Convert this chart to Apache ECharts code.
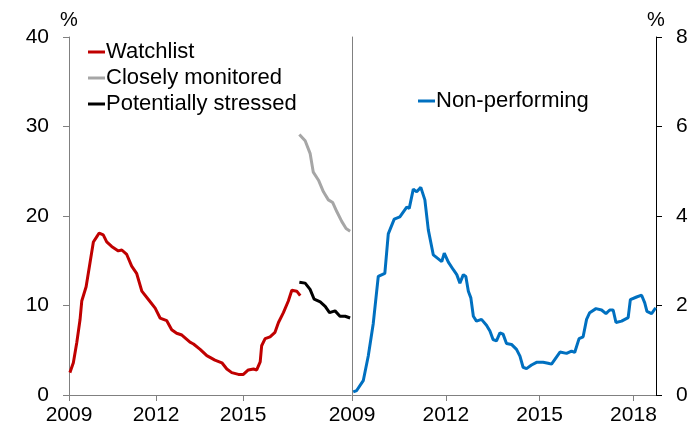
<!DOCTYPE html>
<html>
<head>
<meta charset="utf-8">
<script src="https://cdn.jsdelivr.net/npm/echarts@6/dist/echarts.min.js"></script>
<style>html,body{margin:0;padding:0;background:#fff;}#c{width:693px;height:430px;}</style>
</head>
<body>
<div id="c"></div>
<script>
// ---- data (decimal years, percent) ----
var watchlistX = [2009.03,2009.15,2009.27,2009.38,2009.44,2009.59,2009.72,2009.84,2009.96,2010.04,2010.18,2010.30,2010.47,2010.70,2010.82,2010.99,2011.16,2011.33,2011.51,2011.73,2011.97,2012.14,2012.37,2012.54,2012.71,2012.89,2013.17,2013.29,2013.52,2013.75,2014.03,2014.27,2014.44,2014.61,2014.84,2015.01,2015.18,2015.36,2015.47,2015.59,2015.64,2015.76,2015.93,2016.10,2016.22,2016.39,2016.56,2016.68,2016.85,2016.97];
var watchlistY = [2.5,3.6,5.9,8.4,10.5,12.1,14.7,17.1,17.7,18.1,17.9,17.1,16.6,16.1,16.2,15.7,14.4,13.6,11.6,10.7,9.7,8.6,8.3,7.3,6.9,6.7,5.9,5.7,5.1,4.4,3.9,3.6,2.9,2.5,2.3,2.3,2.8,2.9,2.8,3.7,5.5,6.3,6.5,7.0,8.1,9.2,10.5,11.7,11.6,11.1];

var closelyX = [2016.94,2017.14,2017.31,2017.42,2017.60,2017.77,2017.94,2018.09,2018.23,2018.40,2018.55,2018.69];
var closelyY = [29.1,28.4,27.0,24.9,24.0,22.7,21.8,21.5,20.5,19.4,18.6,18.3];

var stressedX = [2016.94,2017.14,2017.31,2017.45,2017.66,2017.83,2017.98,2018.17,2018.34,2018.52,2018.69];
var stressedY = [12.6,12.5,11.8,10.7,10.4,9.9,9.2,9.4,8.8,8.8,8.6];

var npX = [2009.04,2009.15,2009.36,2009.52,2009.68,2009.84,2010.05,2010.16,2010.35,2010.53,2010.75,2010.83,2010.96,2011.07,2011.20,2011.33,2011.44,2011.60,2011.87,2011.95,2012.08,2012.24,2012.35,2012.45,2012.56,2012.64,2012.72,2012.80,2012.88,2012.98,2013.14,2013.30,2013.41,2013.51,2013.62,2013.73,2013.83,2013.94,2014.10,2014.26,2014.37,2014.47,2014.58,2014.74,2014.90,2015.11,2015.27,2015.38,2015.65,2015.86,2016.02,2016.12,2016.26,2016.39,2016.50,2016.60,2016.80,2016.98,2017.12,2017.24,2017.35,2017.44,2017.62,2017.83,2017.90,2018.10,2018.26,2018.36,2018.43,2018.58,2018.71];
var npY = [0.07,0.1,0.32,0.87,1.6,2.65,2.72,3.6,3.93,3.98,4.2,4.17,4.6,4.54,4.64,4.36,3.69,3.13,2.98,3.17,2.97,2.8,2.69,2.5,2.69,2.65,2.32,2.17,1.76,1.65,1.69,1.56,1.43,1.24,1.21,1.39,1.36,1.15,1.13,1.02,0.87,0.62,0.59,0.67,0.73,0.73,0.71,0.69,0.96,0.93,0.98,0.95,1.26,1.3,1.69,1.84,1.93,1.9,1.82,1.9,1.9,1.62,1.65,1.73,2.13,2.19,2.23,2.06,1.87,1.82,1.95];

var leftTicks = [2009, 2012, 2015];
var rightTicks = [2009, 2012, 2015, 2018];

var names = ['Watchlist', 'Closely monitored', 'Potentially stressed', 'Non-performing'];
var colors = ['#C00000', '#A6A6A6', '#000000', '#0070C0'];

function zip(xs, ys) { return xs.map(function (x, i) { return [x, ys[i]]; }); }

var FONT = 'Liberation Sans, Arial, sans-serif';
var chart = echarts.init(document.getElementById('c'), null, { renderer: 'canvas' });

function xAxis(gi, ticks) {
  return {
    type: 'value', gridIndex: gi, min: 2009, max: 2018.72,
    axisLine: { show: true, onZero: false, lineStyle: { color: '#808080', width: 1 } },
    axisTick: { show: true, length: 6, customValues: ticks, lineStyle: { color: '#808080' } },
    axisLabel: { customValues: ticks, margin: 10, color: '#000', fontSize: 21, fontFamily: FONT,
      formatter: function (v) { return String(Math.round(v)); } },
    splitLine: { show: false }
  };
}

chart.setOption({
  animation: false,
  backgroundColor: '#fff',
  grid: [
    { left: 69, right: 342, top: 37, bottom: 35 },
    { left: 352, right: 37, top: 37, bottom: 35 }
  ],
  legend: [
    { orient: 'vertical', left: 83, top: 36, itemGap: 4, icon: 'rect', itemWidth: 17, itemHeight: 3,
      data: names.slice(0, 3), textStyle: { fontSize: 22, color: '#000', fontFamily: FONT, padding: [0, 0, 0, -4] } },
    { orient: 'vertical', left: 413, top: 85, icon: 'rect', itemWidth: 17, itemHeight: 3,
      data: [names[3]], textStyle: { fontSize: 22, color: '#000', fontFamily: FONT, padding: [0, 0, 0, -4] } }
  ],
  xAxis: [ xAxis(0, leftTicks), xAxis(1, rightTicks) ],
  yAxis: [
    { type: 'value', gridIndex: 0, min: 0, max: 40, interval: 10, position: 'left',
      name: '%', nameLocation: 'end', nameGap: 7,
      nameTextStyle: { fontSize: 20, color: '#000', fontFamily: FONT, align: 'center' },
      axisLine: { show: true, lineStyle: { color: '#808080' } },
      axisTick: { show: true, length: 6, lineStyle: { color: '#808080' } },
      axisLabel: { margin: 20, color: '#000', fontSize: 21, fontFamily: FONT },
      splitLine: { show: false } },
    { type: 'value', gridIndex: 1, min: 0, max: 8, interval: 2, position: 'right',
      name: '%', nameLocation: 'end', nameGap: 7,
      nameTextStyle: { fontSize: 20, color: '#000', fontFamily: FONT, align: 'center' },
      axisLine: { show: true, lineStyle: { color: '#000' } },
      axisTick: { show: true, length: 6, lineStyle: { color: '#000' } },
      axisLabel: { margin: 20, color: '#000', fontSize: 21, fontFamily: FONT },
      splitLine: { show: false } },
    { type: 'value', gridIndex: 1, min: 0, max: 8, position: 'left',
      axisLine: { show: true, lineStyle: { color: '#808080' } },
      axisTick: { show: false }, axisLabel: { show: false }, splitLine: { show: false } }
  ],
  series: [
    { name: names[0], type: 'line', xAxisIndex: 0, yAxisIndex: 0, data: zip(watchlistX, watchlistY),
      showSymbol: false, lineStyle: { color: colors[0], width: 3 }, itemStyle: { color: colors[0] } },
    { name: names[1], type: 'line', xAxisIndex: 0, yAxisIndex: 0, data: zip(closelyX, closelyY),
      showSymbol: false, lineStyle: { color: colors[1], width: 3 }, itemStyle: { color: colors[1] } },
    { name: names[2], type: 'line', xAxisIndex: 0, yAxisIndex: 0, data: zip(stressedX, stressedY),
      showSymbol: false, lineStyle: { color: colors[2], width: 3 }, itemStyle: { color: colors[2] } },
    { name: names[3], type: 'line', xAxisIndex: 1, yAxisIndex: 1, data: zip(npX, npY),
      showSymbol: false, lineStyle: { color: colors[3], width: 3 }, itemStyle: { color: colors[3] } }
  ]
});
</script>
</body>
</html>
